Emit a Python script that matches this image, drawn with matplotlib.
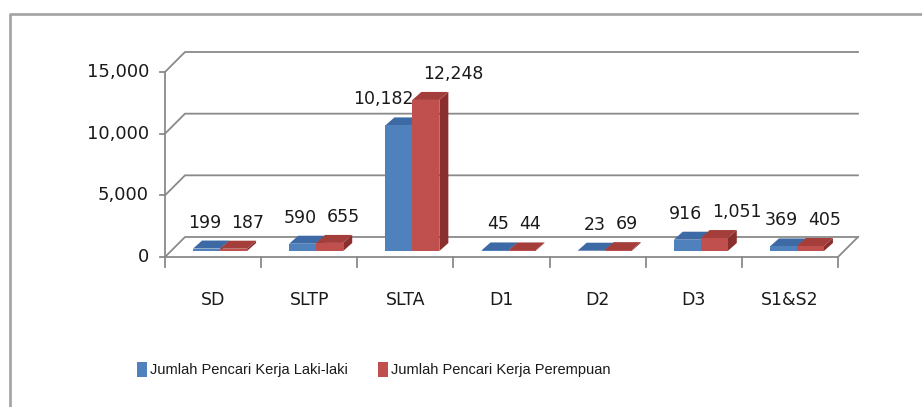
import matplotlib
matplotlib.use('Agg')
import matplotlib.pyplot as plt
from matplotlib.patches import Rectangle, Polygon
from matplotlib.lines import Line2D

categories = ['SD', 'SLTP', 'SLTA', 'D1', 'D2', 'D3', 'S1&S2']
laki = [199, 590, 10182, 45, 23, 916, 369]
perempuan = [187, 655, 12248, 44, 69, 1051, 405]
series_names = ['Jumlah Pencari Kerja Laki-laki', 'Jumlah Pencari Kerja Perempuan']
yticks = [0, 5000, 10000, 15000]

W, H = 922, 407
fig = plt.figure(figsize=(W / 100, H / 100), dpi=100)

# plot area in pixels, front floor from x=165..838, value 0 at y=257, 15000 at y=72
ax_l, ax_r, ax_t, ax_b = 150, 880, 30, 280
ax = fig.add_axes([ax_l / W, 1 - ax_b / H, (ax_r - ax_l) / W, (ax_b - ax_t) / H])
ppx = (838 - 165) / len(categories)
ppy = (257 - 72) / 15000
ax.set_xlim(-0.5 - (165 - ax_l) / ppx, -0.5 + (ax_r - 165) / ppx)
ax.set_ylim(-(ax_b - 257) / ppy, (257 - ax_t) / ppy)
ax.axis('off')

grid_c = '#8a8a8a'
wx, wy = 20 / ppx, 20 / ppy
x_lo, x_hi = -0.5, len(categories) - 0.5

# walls / gridlines
for v in yticks:
    ax.plot([x_lo, x_lo + wx, x_hi + wx], [v, v + wy, v + wy], color=grid_c, lw=1.3, zorder=1)
    ax.plot([x_lo - 5 / ppx, x_lo], [v, v], color=grid_c, lw=1.3, zorder=1)
    ax.text(x_lo - 16 / ppx, v, f'{v:,}', ha='right', va='center', fontsize=13, color='#1a1a1a')
ax.plot([x_lo, x_lo], [0, yticks[-1]], color=grid_c, lw=1.3, zorder=1)
ax.plot([x_lo, x_hi, x_hi + wx], [0, 0, wy], color=grid_c, lw=1.3, zorder=1)
for k in range(len(categories) + 1):
    ax.plot([k - 0.5, k - 0.5], [0, -10 / ppy], color=grid_c, lw=1.3, zorder=1)
for i, c in enumerate(categories):
    ax.text(i, -43 / ppy, c, ha='center', va='center', fontsize=12.5, color='#1a1a1a')

# 3d-looking bars
fx, fy = 7 / ppx, 6 / ppy
dx, dy = 9 / ppx, 8 / ppy
bw = 27 / ppx
styles = [('#4f81bd', '#3d6aa4', '#34598a'), ('#c0504d', '#a33e3b', '#8a2f2d')]
for i in range(len(categories)):
    for s, vals in enumerate([laki, perempuan]):
        front, top, side = styles[s]
        v = vals[i]
        x0 = i + fx + (s - 1) * bw
        x1 = x0 + bw
        y0, y1 = fy, fy + v
        z = 3 + i * 2 + s
        ax.add_patch(Polygon([(x1, y0), (x1 + dx, y0 + dy), (x1 + dx, y1 + dy), (x1, y1)],
                             closed=True, facecolor=side, edgecolor='none', zorder=z))
        ax.add_patch(Polygon([(x0, y1), (x1, y1), (x1 + dx, y1 + dy), (x0 + dx, y1 + dy)],
                             closed=True, facecolor=top, edgecolor='none', zorder=z))
        ax.add_patch(Rectangle((x0, y0), bw, v, facecolor=front, edgecolor='none', zorder=z))
        ly = y1 + dy + 18 / ppy
        if s == 0:
            ax.text(x1 + 1 / ppx, ly, f'{v:,}', ha='right', va='center', fontsize=12.5,
                    color='#1a1a1a', zorder=20)
        else:
            ax.text(x1 - 16 / ppx, ly, f'{v:,}', ha='left', va='center', fontsize=12.5,
                    color='#1a1a1a', zorder=20)

# legend
for (sq_x, tx), name, st in zip([(137, 150), (378, 391)], series_names, styles):
    fig.patches.append(Rectangle((sq_x / W, 1 - 377 / H), 10 / W, 15 / H, transform=fig.transFigure,
                                 facecolor=st[0], edgecolor='none'))
    fig.text(tx / W, 1 - 370 / H, name, ha='left', va='center', fontsize=10.5,
             family='Liberation Sans', color='#1a1a1a')

# outer border
fig.add_artist(Line2D([10 / W, 10 / W, 1.0], [0, 1 - 14 / H, 1 - 14 / H], transform=fig.transFigure,
                      color='#a6a6a6', lw=2))

fig.savefig('out.png', dpi=100)
